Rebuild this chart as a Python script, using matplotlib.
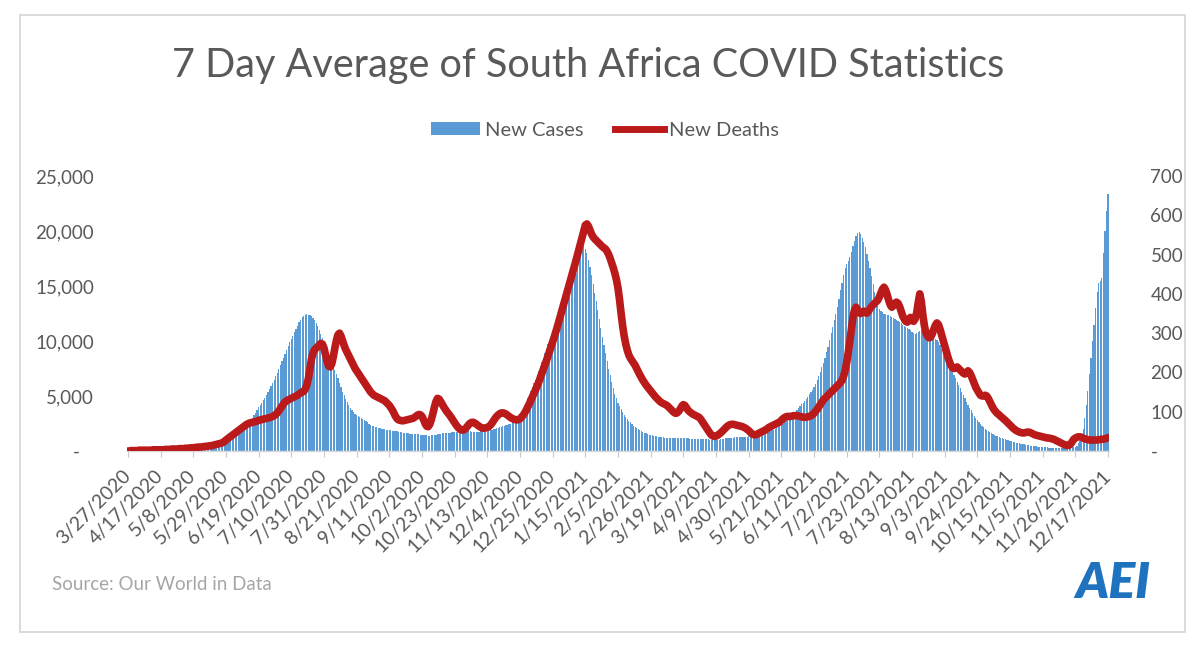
import matplotlib
matplotlib.use("Agg")
import matplotlib.pyplot as plt
import numpy as np
from matplotlib.patches import Patch, Rectangle
from matplotlib.lines import Line2D
from matplotlib.ticker import FuncFormatter

# ---------------- data (7-day averages, daily from 3/27/2020 to 12/17/2021) ----------------
new_cases = [
    130, 140, 150, 150, 140, 130, 120, 110, 100, 90, 80, 75, 70, 70, 75, 80, 80, 85, 90, 95, 100,
    110, 120, 130, 140, 150, 160, 170, 180, 190, 200, 210, 220, 230, 240, 260, 280, 300, 320, 340, 360, 380,
    400, 420, 440, 460, 480, 500, 520, 540, 560, 590, 620, 650, 680, 710, 740, 770, 800, 840, 880, 920, 960,
    1050, 1100, 1150, 1200, 1270, 1340, 1420, 1510, 1610, 1720, 1840, 1970, 2110, 2260, 2420, 2600, 2800, 3000, 3250, 3500, 3750,
    4000, 4200, 4400, 4600, 4850, 5100, 5350, 5600, 5900, 6200, 6500, 6800, 7100, 7450, 7800, 8150, 8500, 8850, 9200, 9550, 9900,
    10200, 10500, 10800, 11100, 11400, 11700, 11950, 12150, 12300, 12400, 12450, 12400, 12350, 12250, 12100, 11900, 11650, 11350, 11000, 10650, 10300,
    9950, 9600, 9200, 8800, 8450, 8100, 7750, 7400, 7000, 6600, 6200, 5800, 5400, 5050, 4750, 4450, 4200, 3950, 3750, 3550, 3400,
    3300, 3200, 3100, 3000, 2900, 2800, 2700, 2600, 2500, 2400, 2300, 2250, 2200, 2150, 2100, 2050, 2000, 1980, 1960, 1940, 1920,
    1900, 1880, 1850, 1820, 1800, 1780, 1750, 1720, 1700, 1680, 1650, 1620, 1600, 1580, 1560, 1550, 1540, 1530, 1520, 1510, 1500,
    1480, 1460, 1440, 1420, 1400, 1400, 1420, 1450, 1480, 1500, 1520, 1550, 1580, 1600, 1620, 1640, 1650, 1660, 1680, 1700, 1720,
    1730, 1740, 1750, 1760, 1770, 1780, 1790, 1800, 1800, 1790, 1780, 1770, 1760, 1750, 1740, 1750, 1760, 1780, 1800, 1820, 1840,
    1860, 1880, 1900, 1930, 1960, 2000, 2050, 2100, 2150, 2200, 2250, 2300, 2350, 2400, 2450, 2500, 2600, 2700, 2850, 3000, 3200,
    3400, 3650, 3900, 4200, 4500, 4800, 5100, 5450, 5800, 6150, 6500, 6900, 7300, 7700, 8100, 8500, 8900, 9300, 9700, 10100, 10500,
    10700, 10900, 11100, 11350, 11600, 11900, 12200, 12550, 12900, 13300, 13700, 14100, 14600, 15100, 15600, 16200, 16800, 17400, 17900, 18300, 18600,
    18400, 18000, 17400, 16700, 16000, 15200, 14400, 13600, 12800, 12000, 11200, 10400, 9600, 8900, 8200, 7500, 6900, 6300, 5700, 5200, 4800,
    4400, 4100, 3800, 3550, 3300, 3100, 2900, 2750, 2600, 2450, 2300, 2200, 2100, 2000, 1900, 1820, 1750, 1680, 1620, 1560, 1500,
    1460, 1420, 1390, 1360, 1330, 1300, 1280, 1260, 1240, 1220, 1210, 1200, 1190, 1180, 1180, 1170, 1170, 1160, 1160, 1150, 1150,
    1150, 1150, 1140, 1140, 1130, 1130, 1120, 1120, 1110, 1110, 1100, 1100, 1090, 1080, 1070, 1060, 1050, 1040, 1030, 1020, 1010,
    1000, 1010, 1030, 1050, 1080, 1110, 1140, 1160, 1180, 1200, 1210, 1220, 1230, 1240, 1250, 1260, 1270, 1280, 1290, 1300, 1310,
    1320, 1330, 1340, 1350, 1370, 1390, 1420, 1450, 1490, 1530, 1580, 1630, 1680, 1740, 1800, 1870, 1940, 2020, 2100, 2190, 2280,
    2400, 2500, 2620, 2740, 2870, 3000, 3140, 3280, 3430, 3580, 3740, 3900, 4060, 4230, 4400, 4580, 4760, 4950, 5150, 5350, 5560,
    5800, 6100, 6450, 6800, 7200, 7600, 8000, 8500, 9000, 9500, 10100, 10700, 11300, 11900, 12500, 13100, 13800, 14600, 15300, 16000, 16600,
    17000, 17300, 17600, 18100, 18600, 19100, 19500, 19800, 19900, 19700, 19400, 19000, 18500, 17900, 17300, 16600, 15900, 15200, 14500, 13800, 13200,
    12900, 12700, 12600, 12500, 12500, 12400, 12400, 12300, 12200, 12100, 12000, 11900, 11800, 11700, 11600, 11500, 11400, 11300, 11200, 11100, 11000,
    10800, 10700, 10600, 10700, 10800, 10900, 11000, 11000, 10900, 10800, 10700, 10600, 10500, 10400, 10300, 10200, 10100, 9900, 9600, 9300, 9000,
    8700, 8400, 8100, 7800, 7500, 7200, 6900, 6600, 6300, 6000, 5700, 5400, 5100, 4800, 4500, 4200, 3950, 3700, 3450, 3200, 3000,
    2800, 2600, 2450, 2300, 2150, 2000, 1900, 1800, 1700, 1600, 1520, 1450, 1380, 1320, 1260, 1200, 1150, 1100, 1050, 1000, 960,
    920, 880, 840, 800, 770, 740, 710, 680, 650, 620, 590, 560, 530, 500, 480, 460, 440, 420, 400, 380, 360,
    350, 340, 330, 320, 310, 300, 290, 280, 275, 270, 270, 275, 280, 290, 300, 310, 320, 330, 340, 350, 370,
    400, 500, 700, 900, 1300, 2000, 3000, 4200, 5500, 7000, 8500, 10000, 11500, 13000, 14500, 15300, 15500, 15700, 18000, 20000, 21800,
    23400,
]

new_deaths = [
    0, 0, 1, 1, 1, 1, 1, 2, 2, 2, 2, 2, 2, 2, 2, 2, 3, 3, 3, 3, 3,
    3, 3, 3, 4, 4, 4, 4, 5, 5, 5, 5, 5, 6, 6, 6, 6, 7, 7, 7, 8, 8,
    8, 9, 9, 10, 10, 10, 11, 11, 12, 12, 13, 13, 14, 15, 16, 17, 18, 19, 20, 22, 24,
    28, 31, 34, 37, 40, 43, 46, 49, 52, 55, 58, 61, 64, 67, 69, 71, 72, 73, 74, 75, 76,
    78, 79, 80, 81, 82, 83, 84, 85, 86, 88, 90, 93, 97, 102, 108, 114, 120, 125, 128, 130, 132,
    134, 136, 138, 140, 142, 145, 148, 150, 152, 158, 168, 185, 210, 235, 250, 258, 262, 266, 270, 274, 272,
    262, 245, 228, 216, 214, 222, 240, 262, 282, 296, 300, 292, 280, 268, 258, 250, 242, 234, 226, 218, 210,
    204, 198, 192, 186, 180, 174, 168, 162, 156, 150, 146, 142, 140, 138, 136, 134, 132, 130, 128, 124, 120,
    116, 110, 104, 96, 88, 82, 79, 78, 77, 77, 78, 79, 80, 81, 82, 83, 85, 88, 91, 93, 92,
    88, 80, 70, 63, 62, 68, 80, 95, 112, 126, 134, 132, 126, 119, 112, 106, 100, 95, 90, 84, 78,
    72, 66, 61, 57, 54, 53, 54, 57, 62, 67, 71, 73, 73, 71, 68, 65, 62, 60, 58, 58, 59,
    60, 62, 66, 71, 77, 83, 88, 92, 95, 97, 97, 96, 94, 91, 88, 85, 83, 81, 80, 79, 80,
    82, 86, 91, 97, 104, 112, 120, 129, 138, 147, 156, 165, 175, 186, 197, 208, 219, 230, 242, 254, 266,
    278, 290, 303, 316, 330, 344, 358, 372, 386, 400, 414, 428, 442, 456, 470, 485, 500, 515, 530, 545, 560,
    575, 578, 572, 562, 552, 545, 540, 536, 532, 528, 524, 520, 517, 514, 508, 500, 490, 478, 466, 452, 436,
    415, 385, 350, 318, 292, 272, 256, 244, 236, 230, 224, 218, 210, 202, 194, 187, 180, 174, 168, 163, 158,
    153, 148, 143, 138, 134, 130, 126, 123, 121, 119, 117, 114, 110, 106, 102, 98, 96, 97, 101, 107, 114,
    118, 116, 110, 104, 100, 97, 94, 92, 90, 88, 86, 82, 76, 70, 64, 58, 52, 46, 41, 38, 37,
    38, 40, 43, 46, 50, 54, 58, 62, 65, 67, 68, 68, 67, 66, 65, 64, 63, 62, 60, 58, 55,
    52, 48, 44, 42, 41, 42, 44, 46, 48, 50, 52, 54, 57, 60, 62, 64, 66, 68, 70, 72, 74,
    78, 82, 85, 87, 88, 88, 88, 89, 90, 90, 90, 89, 88, 87, 86, 86, 86, 87, 88, 90, 92,
    96, 101, 106, 112, 118, 124, 130, 134, 138, 142, 146, 150, 154, 158, 162, 166, 170, 174, 180, 190, 205,
    225, 250, 278, 310, 340, 358, 366, 360, 352, 350, 354, 356, 352, 351, 356, 362, 368, 372, 376, 380, 384,
    392, 402, 412, 417, 410, 398, 384, 372, 366, 370, 376, 379, 376, 368, 356, 344, 336, 330, 328, 334, 340,
    332, 330, 336, 352, 378, 400, 380, 345, 318, 300, 292, 288, 290, 298, 310, 320, 326, 322, 310, 296, 282,
    268, 254, 240, 228, 218, 212, 210, 212, 214, 210, 206, 202, 198, 196, 200, 204, 200, 192, 182, 172, 162,
    155, 148, 142, 140, 140, 142, 140, 134, 126, 118, 110, 104, 99, 95, 92, 88, 85, 81, 78, 74, 70,
    66, 62, 58, 55, 52, 50, 48, 47, 46, 46, 47, 48, 48, 47, 45, 43, 41, 40, 39, 38, 37,
    36, 35, 34, 33, 33, 32, 31, 30, 28, 26, 24, 22, 20, 18, 16, 15, 14, 15, 18, 24, 30,
    33, 35, 36, 36, 35, 33, 31, 30, 29, 28, 28, 28, 28, 28, 28, 29, 29, 30, 30, 31, 32,
    34,
]

tick_labels = [
    "3/27/2020", "4/17/2020", "5/8/2020", "5/29/2020", "6/19/2020", "7/10/2020",
    "7/31/2020", "8/21/2020", "9/11/2020", "10/2/2020", "10/23/2020", "11/13/2020",
    "12/4/2020", "12/25/2020", "1/15/2021", "2/5/2021", "2/26/2021", "3/19/2021",
    "4/9/2021", "4/30/2021", "5/21/2021", "6/11/2021", "7/2/2021", "7/23/2021",
    "8/13/2021", "9/3/2021", "9/24/2021", "10/15/2021", "11/5/2021", "11/26/2021",
    "12/17/2021",
]
tick_step = 21

title_text = "7 Day Average of South Africa COVID Statistics"
source_text = "Source: Our World in Data"

# ---------------- figure ----------------
plt.rcParams['font.family'] = ['Lato', 'DejaVu Sans']
GRAY = '#595959'
BLUE = '#5B9BD5'
RED = '#BA1A1A'

fig = plt.figure(figsize=(12, 6.52), dpi=100)
fig.patch.set_facecolor('white')

# outer frame
fig.patches.append(Rectangle((20 / 1200, 1 - 632 / 652), 1165 / 1200, 617 / 652,
                             transform=fig.transFigure, fill=False,
                             edgecolor='#D4D4D4', linewidth=1.2))

ax = fig.add_axes([127.2 / 1200, 1 - 451 / 652, 981.6 / 1200, 275 / 652])
ax2 = ax.twinx()

n = len(new_cases)
x = np.arange(n)
ax.bar(x, new_cases, width=0.78, color=BLUE, linewidth=0)
ax2.plot(x, new_deaths, color=RED, lw=5.5, solid_joinstyle='round',
         solid_capstyle='round')

ax.set_xlim(-0.5, n - 0.5)
ax.set_ylim(0, 25000)
ax2.set_ylim(0, 700)
ax.set_yticks(np.arange(0, 25001, 5000))
ax2.set_yticks(np.arange(0, 701, 100))
ax.yaxis.set_major_formatter(FuncFormatter(lambda v, p: '-   ' if v == 0 else f'{v:,.0f}'))
ax2.yaxis.set_major_formatter(FuncFormatter(lambda v, p: '-' if v == 0 else f'{v:,.0f}'))

ax.set_xticks(np.arange(0, n, tick_step))
ax.set_xticklabels(tick_labels, rotation=45, ha='right', va='center',
                   rotation_mode='anchor', fontsize=14, color=GRAY)

for a in (ax, ax2):
    for s in ('top', 'left', 'right', 'bottom'):
        a.spines[s].set_visible(False)
    a.set_facecolor('none')

ax.spines['bottom'].set_visible(True)
ax.spines['bottom'].set_color('#D9D9D9')
ax.spines['bottom'].set_linewidth(1.0)

ax.tick_params(axis='x', length=4, width=0.8, color='#C8C8C8', pad=12)
ax.tick_params(axis='y', length=0, pad=24, labelsize=13.5, labelcolor=GRAY)
ax2.tick_params(axis='y', length=0, pad=30, labelsize=13.5, labelcolor=GRAY)

# title (fit to the measured width)
t = fig.text(588 / 1200, 1 - 66 / 652, title_text, ha='center', va='center',
             fontsize=26, color=GRAY)
fig.canvas.draw()
w = t.get_window_extent().width
t.set_fontsize(26 * 831 / w)

# legend
handles = [Patch(facecolor=BLUE, edgecolor='none'),
           Line2D([0], [0], color=RED, lw=5)]
leg = fig.legend(handles, ['New Cases', 'New Deaths'], loc='center',
                 bbox_to_anchor=(605 / 1200, 1 - 130 / 652), ncol=2, frameon=False,
                 fontsize=14.5, handlelength=2.4, handleheight=0.65, handletextpad=0.25,
                 columnspacing=1.6, labelcolor=GRAY)

# source & logo
fig.text(52 / 1200, 1 - 585 / 652, source_text, ha='left', va='center',
         fontsize=13.5, color='#A6A6A6')
fig.text(1113 / 1200, 1 - 583 / 652, 'AEI', ha='center', va='center',
         fontsize=36, color='#1F72BE', fontweight='heavy', style='italic')

fig.savefig('out.png', dpi=100, facecolor='white')
